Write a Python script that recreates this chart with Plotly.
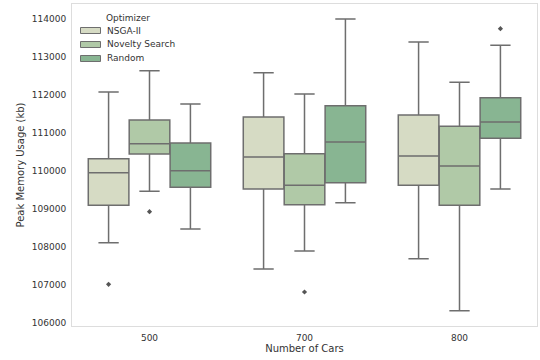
import plotly.graph_objects as go

categories = ["500", "700", "800"]
optimizers = ["NSGA-II", "Novelty Search", "Random"]
colors = ["#d6dbc4", "#b0c9a7", "#88b592"]

q1 = {
    "NSGA-II": [109097, 109526, 109624],
    "Novelty Search": [110447, 109113, 109097],
    "Random": [109571, 109692, 110861],
}
median = {
    "NSGA-II": [109955, 110368, 110395],
    "Novelty Search": [110719, 109624, 110132],
    "Random": [110008, 110763, 111289],
}
q3 = {
    "NSGA-II": [110324, 111421, 111474],
    "Novelty Search": [111342, 110455, 111176],
    "Random": [110737, 111718, 111929],
}
lower = {
    "NSGA-II": [108113, 107421, 107692],
    "Novelty Search": [109466, 107895, 106324],
    "Random": [108474, 109166, 109526],
}
upper = {
    "NSGA-II": [112079, 112587, 113395],
    "Novelty Search": [112640, 112026, 112334],
    "Random": [111763, 114000, 113308],
}
# outliers: (category index, value)
outliers = {
    "NSGA-II": [(0, 107018)],
    "Novelty Search": [(0, 108929), (1, 106816)],
    "Random": [(2, 113745)],
}
yticks = [106000, 107000, 108000, 109000, 110000, 111000, 112000, 113000, 114000]

offsets = [-0.264, 0.0, 0.264]
box_w = 0.262
edge = "#6e6e6e"
txt = "#333333"

fig = go.Figure()
for k, opt in enumerate(optimizers):
    xs = [i + offsets[k] for i in range(len(categories))]
    fig.add_trace(go.Box(
        x=xs, q1=q1[opt], median=median[opt], q3=q3[opt],
        lowerfence=lower[opt], upperfence=upper[opt],
        name=opt, width=box_w, fillcolor=colors[k],
        line=dict(color=edge, width=1.5), whiskerwidth=0.5,
        boxpoints=False, showlegend=False, hoverinfo="y",
    ))
    if outliers[opt]:
        fig.add_trace(go.Scatter(
            x=[c + offsets[k] for c, v in outliers[opt]],
            y=[v for c, v in outliers[opt]],
            mode="markers", marker=dict(symbol="diamond", size=4, color="#555555"),
            showlegend=False, hoverinfo="y",
        ))

# manual legend (paper coordinates of the plot area)
PW, PH = 465.0, 322.0
def px(xp):
    return (xp - 72) / PW
def py(yp):
    return 1 - (yp - 4) / PH

shapes = []
annotations = [dict(
    x=px(128), y=py(18), xref="paper", yref="paper", text="Optimizer",
    showarrow=False, xanchor="center", yanchor="middle", font=dict(size=9, color=txt),
)]
for k, opt in enumerate(optimizers):
    yc = 30.5 + 14 * k
    shapes.append(dict(
        type="rect", xref="paper", yref="paper",
        x0=px(80.5), x1=px(100.5), y0=py(yc - 3), y1=py(yc + 3),
        fillcolor=colors[k], line=dict(color=edge, width=1),
    ))
    annotations.append(dict(
        x=px(105), y=py(yc), xref="paper", yref="paper", text=opt,
        showarrow=False, xanchor="left", yanchor="middle", font=dict(size=9, color=txt),
    ))

fig.update_layout(
    width=540, height=360,
    margin=dict(l=72, r=3, t=4, b=34),
    paper_bgcolor="white", plot_bgcolor="white",
    font=dict(family="DejaVu Sans", size=9, color=txt),
    showlegend=False,
    shapes=shapes, annotations=annotations,
    xaxis=dict(
        range=[-0.5, 2.5], tickmode="array", tickvals=[0, 1, 2], ticktext=categories,
        showgrid=False, zeroline=False, showline=True, linecolor="#dddddd", mirror=True,
        ticks="outside", ticklen=3, tickcolor="rgba(0,0,0,0)",
        title=dict(text="Number of Cars", font=dict(size=10), standoff=3),
    ),
    yaxis=dict(
        range=[105921, 114395], tickmode="array",
        tickvals=yticks, ticktext=[str(v) for v in yticks],
        showgrid=False, zeroline=False, showline=True, linecolor="#dddddd", mirror=True,
        ticks="outside", ticklen=3, tickcolor="rgba(0,0,0,0)",
        title=dict(text="Peak Memory Usage (kb)", font=dict(size=10), standoff=5),
    ),
)

fig.write_html("out.html", config={"displayModeBar": False},
               post_script="document.body.style.margin='0';")
